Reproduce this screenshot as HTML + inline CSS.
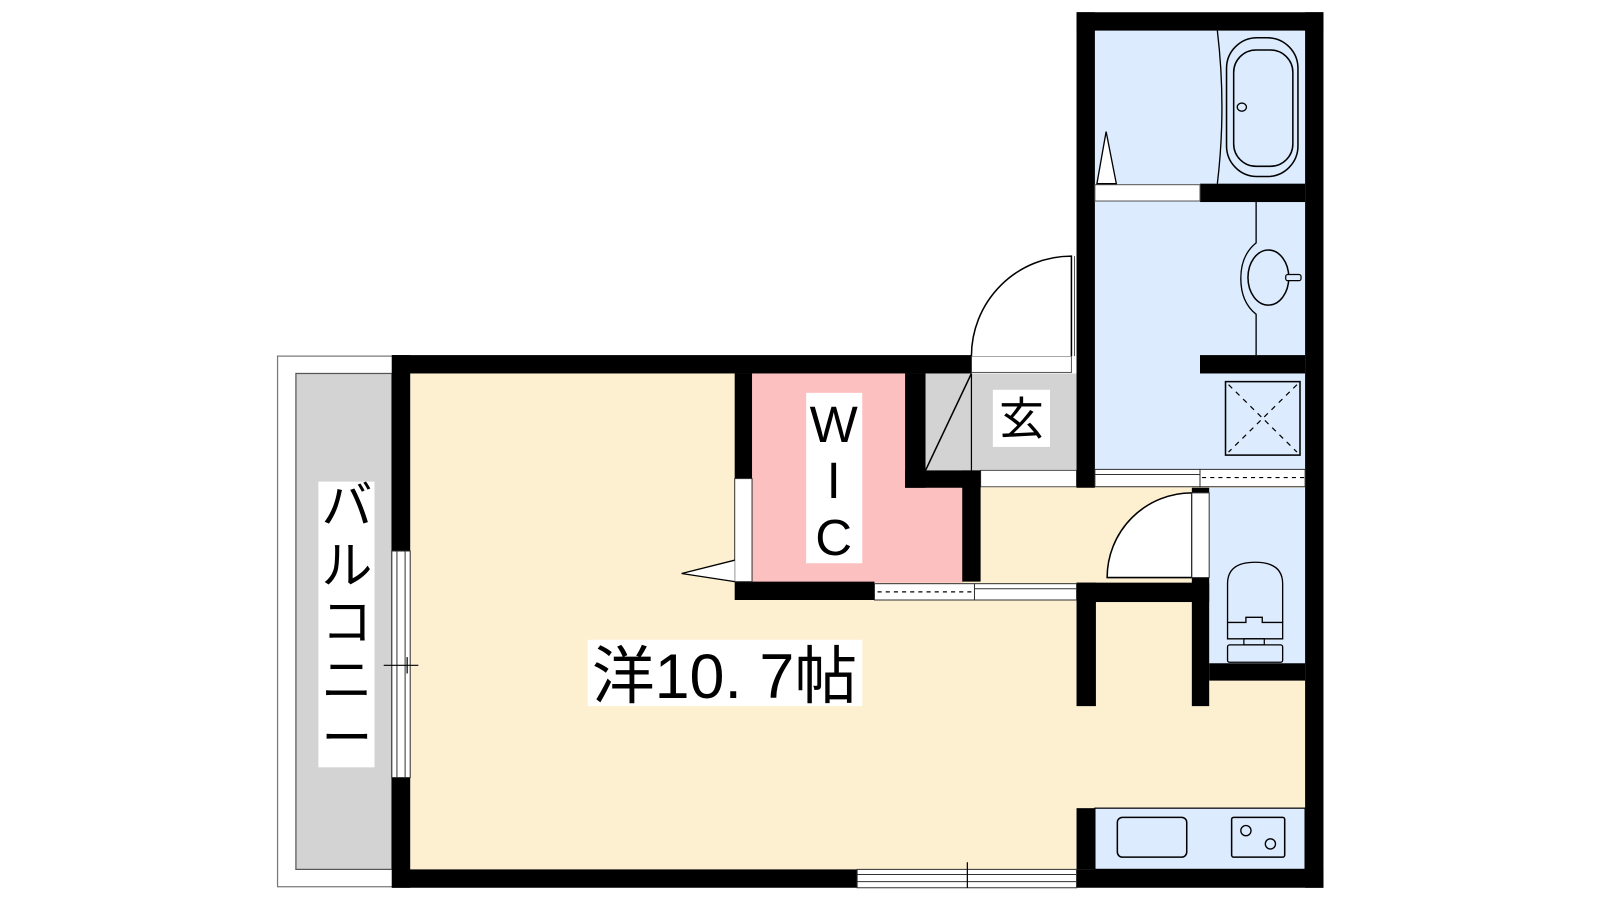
<!DOCTYPE html>
<html><head><meta charset="utf-8"><style>html,body{margin:0;padding:0;background:#fff}svg{display:block}</style></head>
<body>
<svg width="1600" height="900" viewBox="0 0 1568 882" preserveAspectRatio="none" xmlns="http://www.w3.org/2000/svg">
<rect x="0" y="0" width="1568" height="882" fill="#fff"/>
<!-- balcony -->
<rect x="272" y="349" width="113" height="520" fill="#fff" stroke="#777" stroke-width="1.2"/>
<rect x="290" y="366" width="94" height="486" fill="#d3d3d3" stroke="#555" stroke-width="1.2"/>
<rect x="312" y="472" width="55" height="280" fill="#fff"/>
<g font-family="Liberation Sans, Noto Sans CJK JP, sans-serif" font-size="50" text-anchor="middle" fill="#000">
<text x="340" y="513">バ</text><text x="340" y="572">ル</text><text x="340" y="627">コ</text><text x="340" y="684">ニ</text><text x="340" y="741">ー</text>
</g>
<!-- floors -->
<rect x="402" y="366" width="877" height="486" fill="#fdf0d1"/>
<rect x="737" y="366" width="207" height="205" fill="#fdc0c0"/>
<rect x="907" y="366" width="45" height="95" fill="#d3d3d3"/>
<rect x="952" y="366" width="103" height="95" fill="#d3d3d3"/>
<line x1="952" y1="366" x2="907" y2="461" stroke="#000" stroke-width="1.5"/>
<line x1="952" y1="366" x2="952" y2="461" stroke="#000" stroke-width="1.2"/>
<rect x="1073" y="30" width="206" height="430" fill="#dcebfd"/>
<rect x="1185" y="478" width="94" height="174" fill="#dcebfd"/>
<rect x="1073" y="792" width="206" height="60" fill="#dcebfd" stroke="#000" stroke-width="1.2"/>
<!-- entrance door -->
<rect x="952" y="349" width="98" height="16" fill="#fff" stroke="#555" stroke-width="1"/>
<path d="M952 349 A98 98 0 0 1 1050 251 L1050 349" fill="#fff" stroke="#000" stroke-width="1.5"/>
<line x1="1053" y1="251" x2="1053" y2="349" stroke="#555" stroke-width="1"/>
<!-- step below genkan -->
<rect x="961" y="461" width="94" height="16" fill="#fff" stroke="#555" stroke-width="1"/>
<!-- walls -->
<g fill="#000">
<rect x="384" y="348" width="568" height="18"/>
<rect x="384" y="348" width="18" height="192"/>
<rect x="384" y="762" width="18" height="108"/>
<rect x="384" y="852" width="456" height="18"/>
<rect x="1055" y="852" width="242" height="18"/>
<rect x="1055" y="12" width="18" height="466"/>
<rect x="1055" y="12" width="242" height="18"/>
<rect x="1279" y="12" width="18" height="858"/>
<rect x="720" y="366" width="17" height="103"/>
<rect x="720" y="570" width="137" height="18"/>
<rect x="887" y="366" width="20" height="112"/>
<rect x="887" y="461" width="74" height="17"/>
<rect x="943" y="461" width="18" height="109"/>
<rect x="1055" y="571" width="130" height="19"/>
<rect x="1055" y="571" width="19" height="121"/>
<rect x="1168" y="566" width="17" height="126"/>
<rect x="1168" y="478" width="17" height="5"/>
<rect x="1185" y="650" width="94" height="17"/>
<rect x="1176" y="180" width="103" height="18"/>
<rect x="1176" y="348" width="103" height="18"/>
<rect x="1055" y="792" width="18" height="60"/>
</g>
<!-- left window -->
<rect x="384" y="540" width="18" height="222" fill="#fff" stroke="#333" stroke-width="1"/>
<line x1="389" y1="540" x2="389" y2="762" stroke="#333" stroke-width="1"/>
<line x1="397" y1="540" x2="397" y2="762" stroke="#333" stroke-width="1"/>
<line x1="376" y1="652" x2="410" y2="652" stroke="#000" stroke-width="1.2"/>
<line x1="399" y1="644" x2="399" y2="660" stroke="#000" stroke-width="1.2"/>
<!-- bottom window -->
<rect x="840" y="852" width="215" height="18" fill="#fff" stroke="#333" stroke-width="1"/>
<line x1="840" y1="857" x2="1055" y2="857" stroke="#333" stroke-width="1"/>
<line x1="840" y1="864" x2="1055" y2="864" stroke="#333" stroke-width="1"/>
<line x1="948" y1="845" x2="948" y2="870" stroke="#000" stroke-width="1.2"/>
<!-- WIC door -->
<rect x="720" y="469" width="17" height="101" fill="#fff" stroke="#333" stroke-width="1"/>
<polyline points="720,549 668,562 720,570" fill="#fff" stroke="#000" stroke-width="1.3"/>
<!-- sliding door -->
<rect x="857" y="572" width="98" height="16" fill="#fff" stroke="#333" stroke-width="1"/>
<line x1="860" y1="580" x2="955" y2="580" stroke="#000" stroke-width="1.2" stroke-dasharray="4 4"/>
<rect x="955" y="572" width="100" height="16" fill="#fff" stroke="#333" stroke-width="1"/>
<line x1="955" y1="577" x2="1055" y2="577" stroke="#333" stroke-width="1"/>
<!-- toilet door -->
<path d="M1085 566 A83 83 0 0 1 1168 483 L1168 566 Z" fill="#fff" stroke="#000" stroke-width="1.5"/>
<rect x="1168" y="483" width="17" height="83" fill="#fff" stroke="#333" stroke-width="1"/>
<!-- bath column bottom strip -->
<rect x="1073" y="460" width="103" height="17" fill="#fff" stroke="#333" stroke-width="1"/>
<line x1="1073" y1="465" x2="1176" y2="465" stroke="#333" stroke-width="1"/>
<rect x="1176" y="460" width="103" height="17" fill="#fff" stroke="#333" stroke-width="1"/>
<line x1="1178" y1="468" x2="1279" y2="468" stroke="#000" stroke-width="1.2" stroke-dasharray="4 4"/>
<!-- bath door strip -->
<rect x="1073" y="181" width="103" height="16" fill="#fff" stroke="#555" stroke-width="1"/>
<polygon points="1075,180 1084,129 1094,180" fill="#fff" stroke="#000" stroke-width="1.3"/>
<!-- tub -->
<path d="M1193 30 Q1202 105 1193 180" fill="none" stroke="#000" stroke-width="1.3"/>
<rect x="1202" y="37" width="70" height="136" rx="30" fill="none" stroke="#000" stroke-width="1.5"/>
<rect x="1209" y="49" width="58" height="114" rx="22" fill="none" stroke="#000" stroke-width="1.5"/>
<ellipse cx="1217" cy="105" rx="4.5" ry="4" fill="none" stroke="#000" stroke-width="1.3"/>
<!-- wash basin -->
<path d="M1231 198 L1231 238 Q1216 250 1216 273 Q1216 296 1231 308 L1231 348" fill="none" stroke="#000" stroke-width="1.3"/>
<ellipse cx="1243" cy="272" rx="20" ry="27" fill="none" stroke="#000" stroke-width="1.5"/>
<rect x="1260" y="269" width="15" height="6" rx="2" fill="#dcebfd" stroke="#000" stroke-width="1.2"/>
<!-- shower floor -->
<rect x="1201" y="374" width="73" height="72" fill="none" stroke="#000" stroke-width="1.5"/>
<line x1="1204" y1="377" x2="1271" y2="443" stroke="#000" stroke-width="1.2" stroke-dasharray="5 5"/>
<line x1="1271" y1="377" x2="1204" y2="443" stroke="#000" stroke-width="1.2" stroke-dasharray="5 5"/>
<!-- toilet -->
<path d="M1203 610 L1203 572 Q1203 551 1230 551 Q1257 551 1257 572 L1257 610" fill="none" stroke="#000" stroke-width="1.3"/>
<path d="M1203 610 L1203 626 L1257 626 L1257 610 L1237 610 L1237 605 L1221 605 L1221 610 Z" fill="none" stroke="#000" stroke-width="1.3"/>
<rect x="1219" y="626" width="20" height="6" fill="none" stroke="#000" stroke-width="1.2"/>
<rect x="1203" y="632" width="54" height="17" rx="2" fill="none" stroke="#000" stroke-width="1.3"/>
<!-- kitchen -->
<rect x="1095" y="801" width="68" height="39" rx="5" fill="none" stroke="#000" stroke-width="1.5"/>
<rect x="1207" y="801" width="52" height="39" rx="2" fill="none" stroke="#000" stroke-width="1.5"/>
<circle cx="1221" cy="814" r="5" fill="none" stroke="#000" stroke-width="1.3"/>
<circle cx="1245" cy="827" r="5" fill="none" stroke="#000" stroke-width="1.3"/>
<!-- labels -->
<rect x="790" y="385" width="55" height="167" fill="#fff"/>
<g font-family="Liberation Sans, sans-serif" font-size="50" text-anchor="middle" fill="#000">
<text x="817" y="433">W</text><text x="817" y="488">I</text><text x="817" y="544">C</text>
</g>
<rect x="973" y="382" width="56" height="56" fill="#fff"/>
<text x="1001" y="426" font-family="Liberation Sans, Noto Sans CJK JP, sans-serif" font-size="44" text-anchor="middle">玄</text>
<rect x="576" y="627" width="269" height="65" fill="#fff"/>
<text x="580" y="684" font-family="Liberation Sans, Noto Sans CJK JP, sans-serif" font-size="62" textLength="260" lengthAdjust="spacingAndGlyphs">洋10. 7帖</text>
</svg>
</body></html>
